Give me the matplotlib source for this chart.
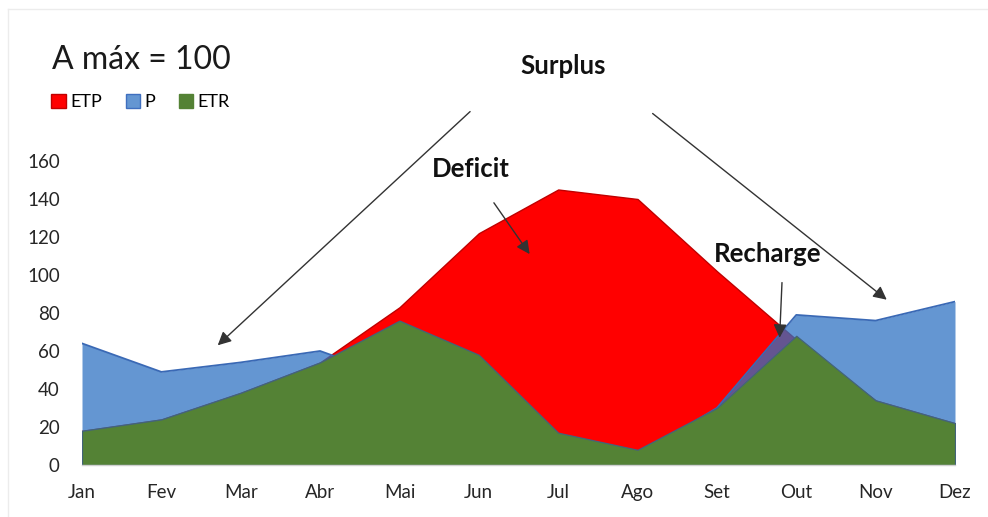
import numpy as np
import matplotlib
matplotlib.use('Agg')
import matplotlib.pyplot as plt
from matplotlib.patches import Patch

plt.rcParams['font.family'] = ['Lato', 'DejaVu Sans']

# monthly water balance (mm)
months = ['Jan', 'Fev', 'Mar', 'Abr', 'Mai', 'Jun', 'Jul', 'Ago', 'Set', 'Out', 'Nov', 'Dez']
etp = [18, 24, 38, 54, 83, 122, 145, 140, 102, 66, 34, 22]
p = [64, 49, 54, 60, 45, 30, 10, 5, 30, 79, 76, 86]
etr = [18, 24, 38, 54, 76, 58, 17, 8, 30, 68, 34, 22]

x = np.arange(len(months))

fig = plt.figure(figsize=(9.88, 5.17), dpi=100)
ax = fig.add_axes([0.083, 0.1006, 0.8836, 0.588])

# areas drawn back to front: ETP, P, ETR
ax.fill_between(x, 0, etp, color='#ff0000', edgecolor='#c00000', linewidth=1.0, zorder=1)
ax.fill_between(x, 0, p, color='#3073c3', alpha=0.75, linewidth=0, zorder=2)
ax.plot(x, p, color='#3a69b5', linewidth=1.3, zorder=2)
ax.fill_between(x, 0, etr, color='#548235', edgecolor='#43647a', linewidth=0.9, zorder=3)

ax.set_xlim(0, len(months) - 1)
ax.set_ylim(0, 160)
ax.set_yticks(range(0, 161, 20))
ax.set_xticks(x)
ax.set_xticklabels(months)
ax.tick_params(axis='both', length=0, labelsize=13.5, colors='#262626')
ax.tick_params(axis='y', pad=16)
ax.tick_params(axis='x', pad=14)
for s in ['top', 'right', 'left']:
    ax.spines[s].set_visible(False)
ax.spines['bottom'].set_color('#d0d0d0')
ax.spines['bottom'].set_linewidth(1.0)
ax.spines['bottom'].set_zorder(4)

# annotations
arrow = dict(arrowstyle='-|>', color='#333333', lw=1.0, mutation_scale=20,
             shrinkA=0, shrinkB=0)
lbl = dict(fontsize=18.5, fontweight='bold', ha='center', va='center', clip_on=False,
           zorder=5, color='#111111')
ax.text(6.06, 210, 'Surplus', **lbl)
ax.annotate('', xy=(1.71, 63), xytext=(4.89, 186), arrowprops=arrow, annotation_clip=False)
ax.annotate('', xy=(10.14, 87), xytext=(7.19, 185), arrowprops=arrow, annotation_clip=False)
ax.text(4.9, 156, 'Deficit', **lbl)
ax.annotate('', xy=(5.64, 111), xytext=(5.19, 138), arrowprops=arrow, annotation_clip=False)
ax.text(8.64, 111, 'Recharge', **lbl)
ax.annotate('', xy=(8.79, 67), xytext=(8.82, 96), arrowprops=arrow, annotation_clip=False,
            zorder=6)

# title and legend
fig.text(0.053, 0.884, 'A máx = 100', fontsize=23, ha='left', va='center', color='#1a1a1a')
handles = [Patch(facecolor='#ff0000', edgecolor='#c00000', label='ETP'),
           Patch(facecolor='#6496d2', edgecolor='#3f6fbf', label='P'),
           Patch(facecolor='#548235', edgecolor='#548235', label='ETR')]
fig.legend(handles=handles, loc='center left', bbox_to_anchor=(0.052, 0.802), ncol=3,
           frameon=False, fontsize=13, handlelength=0.8, handleheight=0.8,
           handletextpad=0.25, columnspacing=1.3, borderaxespad=0, borderpad=0)

# faint chart border
fig.add_artist(plt.Line2D([0.008, 0.008], [0, 0.983], color='#ececec', lw=1))
fig.add_artist(plt.Line2D([0.008, 1], [0.983, 0.983], color='#ececec', lw=1))

fig.savefig('out.png', dpi=100)
